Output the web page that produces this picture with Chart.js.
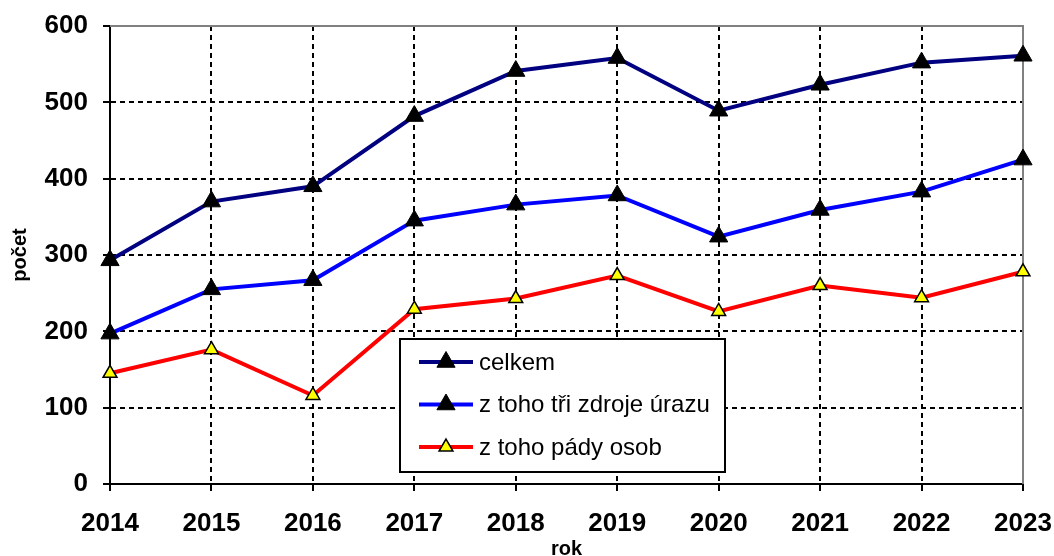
<!DOCTYPE html>
<html>
<head>
<meta charset="utf-8">
<script src="https://cdn.jsdelivr.net/npm/chart.js@4"></script>
<style>
  html, body { margin: 0; padding: 0; background: #fff; overflow: hidden; }
  #wrap { width: 1054px; height: 556px; }
</style>
</head>
<body>
<div id="wrap"><canvas id="chart" width="1054" height="556"></canvas></div>
<script>
const years = ["2014", "2015", "2016", "2017", "2018", "2019", "2020", "2021", "2022", "2023"];
const celkem = [293, 370, 390, 482, 541, 558, 489, 523, 552, 561];
const triZdroje = [197, 255, 267, 345, 366, 378, 324, 359, 383, 425];
const padyOsob = [145, 176, 116, 229, 243, 273, 226, 260, 244, 278];
const seriesNames = ["celkem", "z toho tři zdroje úrazu", "z toho pády osob"];
const xTitle = "rok";

const FONT = "'Liberation Sans', Arial, sans-serif";

// gray frame on top and right of the plot
const frame = {
  id: "frame",
  beforeDatasetsDraw(chart) {
    const a = chart.chartArea;
    const ctx = chart.ctx;
    ctx.save();
    ctx.strokeStyle = "#808080";
    ctx.lineWidth = 2;
    ctx.beginPath();
    ctx.moveTo(a.left, a.top);
    ctx.lineTo(a.right, a.top);
    ctx.lineTo(a.right, a.bottom);
    ctx.stroke();
    ctx.restore();
  }
};

// boxed legend inside the plot + x title cut at the bottom edge
const boxLegend = {
  id: "boxLegend",
  afterDraw(chart) {
    const ctx = chart.ctx;
    const a = chart.chartArea;
    const x0 = 400, y0 = 339, w = 325, h = 133;
    ctx.save();
    ctx.fillStyle = "#fff";
    ctx.fillRect(x0, y0, w, h);
    ctx.strokeStyle = "#000";
    ctx.lineWidth = 2;
    ctx.strokeRect(x0, y0, w, h);
    chart.data.datasets.forEach((ds, i) => {
      const y = y0 + 23 + i * 42.5;
      ctx.strokeStyle = ds.borderColor;
      ctx.lineWidth = ds.borderWidth;
      ctx.beginPath();
      ctx.moveTo(x0 + 19, y);
      ctx.lineTo(x0 + 73, y);
      ctx.stroke();
      ctx.fillStyle = ds.pointBackgroundColor;
      ctx.strokeStyle = ds.pointBorderColor;
      ctx.lineWidth = ds.pointBorderWidth;
      Chart.helpers.drawPoint(ctx, {
        pointStyle: "triangle",
        radius: ds.pointRadius,
        borderWidth: ds.pointBorderWidth
      }, x0 + 46, y);
      ctx.fillStyle = "#000";
      ctx.font = "24px " + FONT;
      ctx.textBaseline = "middle";
      ctx.fillText(ds.label, x0 + 79, y + 1);
    });

    ctx.fillStyle = "#000";
    ctx.font = "bold 20px " + FONT;
    ctx.textAlign = "center";
    ctx.textBaseline = "alphabetic";
    ctx.fillText(xTitle, (a.left + a.right) / 2, 555);
    ctx.restore();
  }
};

const ctx = document.getElementById("chart").getContext("2d");
new Chart(ctx, {
  type: "line",
  data: {
    labels: years,
    datasets: [
      {
        label: seriesNames[0],
        data: celkem,
        borderColor: "#000080",
        borderWidth: 4,
        pointStyle: "triangle",
        pointRadius: 10.5,
        pointBackgroundColor: "#000",
        pointBorderColor: "#000",
        pointBorderWidth: 1,
        clip: false
      },
      {
        label: seriesNames[1],
        data: triZdroje,
        borderColor: "#0000ff",
        borderWidth: 4,
        pointStyle: "triangle",
        pointRadius: 10.5,
        pointBackgroundColor: "#000",
        pointBorderColor: "#000",
        pointBorderWidth: 1,
        clip: false
      },
      {
        label: seriesNames[2],
        data: padyOsob,
        borderColor: "#ff0000",
        borderWidth: 4,
        pointStyle: "triangle",
        pointRadius: 8,
        pointBackgroundColor: "#ffff00",
        pointBorderColor: "#000",
        pointBorderWidth: 1.5,
        clip: false
      }
    ]
  },
  options: {
    responsive: false,
    animation: false,
    layout: { padding: { left: 0, top: 26, right: 31, bottom: 0 } },
    plugins: {
      legend: { display: false },
      tooltip: { enabled: false }
    },
    scales: {
      x: {
        offset: false,
        afterFit: (s) => { s.height = 72; s.paddingLeft = 0; s.paddingRight = 0; },
        grid: {
          color: "#000",
          lineWidth: 2,
          tickLength: 7,
          tickColor: "#000",
          tickWidth: 2,
          tickBorderDash: []
        },
        border: { display: true, color: "#000", width: 2, dash: [5, 4] },
        ticks: {
          color: "#000",
          padding: 17,
          maxRotation: 0,
          font: { family: FONT, size: 26, weight: "bold" }
        }
      },
      y: {
        min: 0,
        max: 600,
        afterFit: (s) => { s.width = 110; s.paddingTop = 0; s.paddingBottom = 0; },
        grid: {
          color: "#000",
          lineWidth: 2,
          tickLength: 7,
          tickColor: "#000",
          tickWidth: 2,
          tickBorderDash: []
        },
        border: { display: true, color: "#000", width: 2, dash: [5, 4] },
        ticks: {
          stepSize: 100,
          color: "#000",
          padding: 15,
          font: { family: FONT, size: 26, weight: "bold" }
        },
        title: {
          display: true,
          text: "počet",
          color: "#000",
          padding: { top: 10, bottom: 0 },
          font: { family: FONT, size: 20, weight: "bold", lineHeight: 1 }
        }
      }
    }
  },
  plugins: [frame, boxLegend]
});
</script>
</body>
</html>
